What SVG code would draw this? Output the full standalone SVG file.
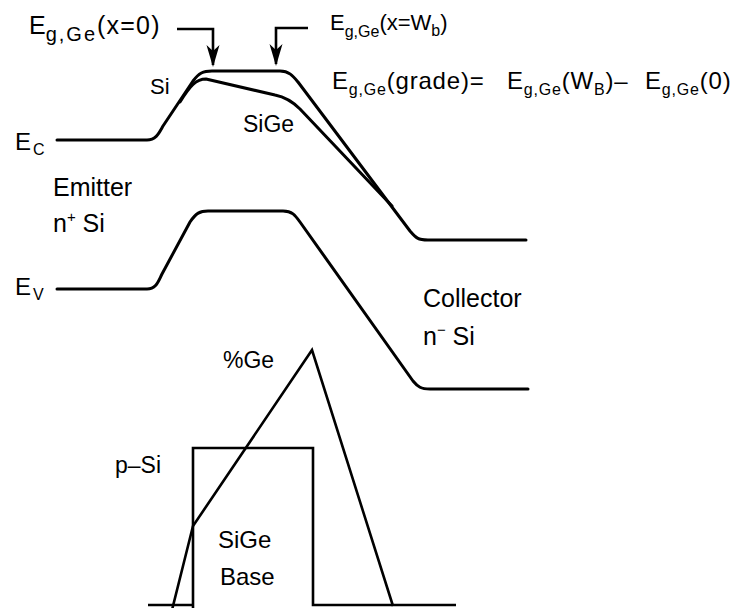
<svg xmlns="http://www.w3.org/2000/svg" width="739" height="608" viewBox="0 0 739 608">
<style>
  text { font-family: "Liberation Sans", Arial, sans-serif; fill: #000; }
  .curve { fill: none; stroke: #000; stroke-width: 3; stroke-linecap: round; stroke-linejoin: round; }
  .thin { fill: none; stroke: #000; stroke-width: 2.6; stroke-linecap: butt; stroke-linejoin: miter; }
  .lbl { font-size: 24px; }
  .eq { font-size: 24px; letter-spacing: 0.8px; }
  .sub { font-size: 16px; }
</style>
<defs>
  <marker id="arr" viewBox="0 0 24 14" refX="21" refY="7" markerWidth="24" markerHeight="14" markerUnits="userSpaceOnUse" orient="auto">
    <path d="M23,7 L1,0.5 L7,7 L1,13.5 Z" fill="#000"/>
  </marker>
</defs>
<rect width="739" height="608" fill="#fff"/>

<g id="conduction-band-si">
  <path class="curve" d="M57,140 H147 C156,140 159,133 163,126 L193,81 C199,73 203,71 212,71 H280 C289,71 293,76 298,82 L410,231 C416,238 418,240 428,240 H526"/>
</g>
<g id="conduction-band-sige">
  <path class="curve" d="M180,102 C190,86 196,79 206,79 L275,95 C285,97 292,101 300,109 L392,206"/>
</g>
<g id="valence-band">
  <path class="curve" d="M57,289 H147 C156,289 158,282 162,274 L190,222 C196,213 200,211 208,211 H283 C292,211 295,215 300,222 L413,381 C418,387 421,389 430,389 H528"/>
</g>
<g id="base-doping">
  <path class="thin" d="M193,609 V448 H313 V605 H456"/>
  <path class="thin" d="M148,605 H193"/>
</g>
<g id="ge-profile">
  <path class="thin" d="M172,610 L193,526 L312,350 L393,606"/>
</g>

<g id="connectors">
  <path class="thin" d="M177,29 H213 V65" marker-end="url(#arr)"/>
  <path class="thin" d="M308,28 H276 V64" marker-end="url(#arr)"/>
</g>

<g id="label-eg-x0">
  <text font-size="25" x="29" y="34">E<tspan dy="7" font-size="20" letter-spacing="2">g,Ge</tspan><tspan dy="-7" letter-spacing="1.2">(x=0)</tspan></text>
</g>
<g id="label-eg-xwb">
  <text font-size="22" x="330" y="30">E<tspan dy="7" font-size="16">g,Ge</tspan><tspan dy="-7">(x=W</tspan><tspan dy="6" font-size="16">b</tspan><tspan dy="-6">)</tspan></text>
</g>
<g id="label-grade">
  <text class="eq" x="332" y="89">E<tspan class="sub" dy="6">g,Ge</tspan><tspan dy="-6">(grade)=</tspan><tspan x="507" y="89">E</tspan><tspan class="sub" dy="6">g,Ge</tspan><tspan dy="-6">(W</tspan><tspan class="sub" dy="6">B</tspan><tspan dy="-6">)–</tspan><tspan x="645" y="89">E</tspan><tspan class="sub" dy="6">g,Ge</tspan><tspan dy="-6">(0)</tspan></text>
</g>
<g id="label-si">
  <text font-size="22" x="150" y="94">Si</text>
</g>
<g id="label-sige-band">
  <text font-size="23" x="243" y="132">SiGe</text>
</g>
<g id="label-ec">
  <text class="lbl" x="15" y="150">E<tspan x="33" y="155" font-size="16">C</tspan></text>
</g>
<g id="label-emitter">
  <text font-size="25" x="53" y="196">Emitter</text>
  <text font-size="25" x="53" y="232">n<tspan dy="-10" font-size="15">+</tspan><tspan dy="10"> Si</tspan></text>
</g>
<g id="label-ev">
  <text class="lbl" x="15" y="295">E<tspan x="33" y="300" font-size="16">V</tspan></text>
</g>
<g id="label-collector">
  <text font-size="25" x="423" y="307">Collector</text>
  <text font-size="25" x="423" y="345">n<tspan dy="-10" font-size="15">−</tspan><tspan dy="10"> Si</tspan></text>
</g>
<g id="label-ge">
  <text font-size="23" x="223" y="368">%Ge</text>
</g>
<g id="label-psi">
  <text font-size="23" x="115" y="473">p–Si</text>
</g>
<g id="label-base">
  <text font-size="24" x="218" y="548">SiGe</text>
  <text font-size="24" x="220" y="585">Base</text>
</g>
</svg>
